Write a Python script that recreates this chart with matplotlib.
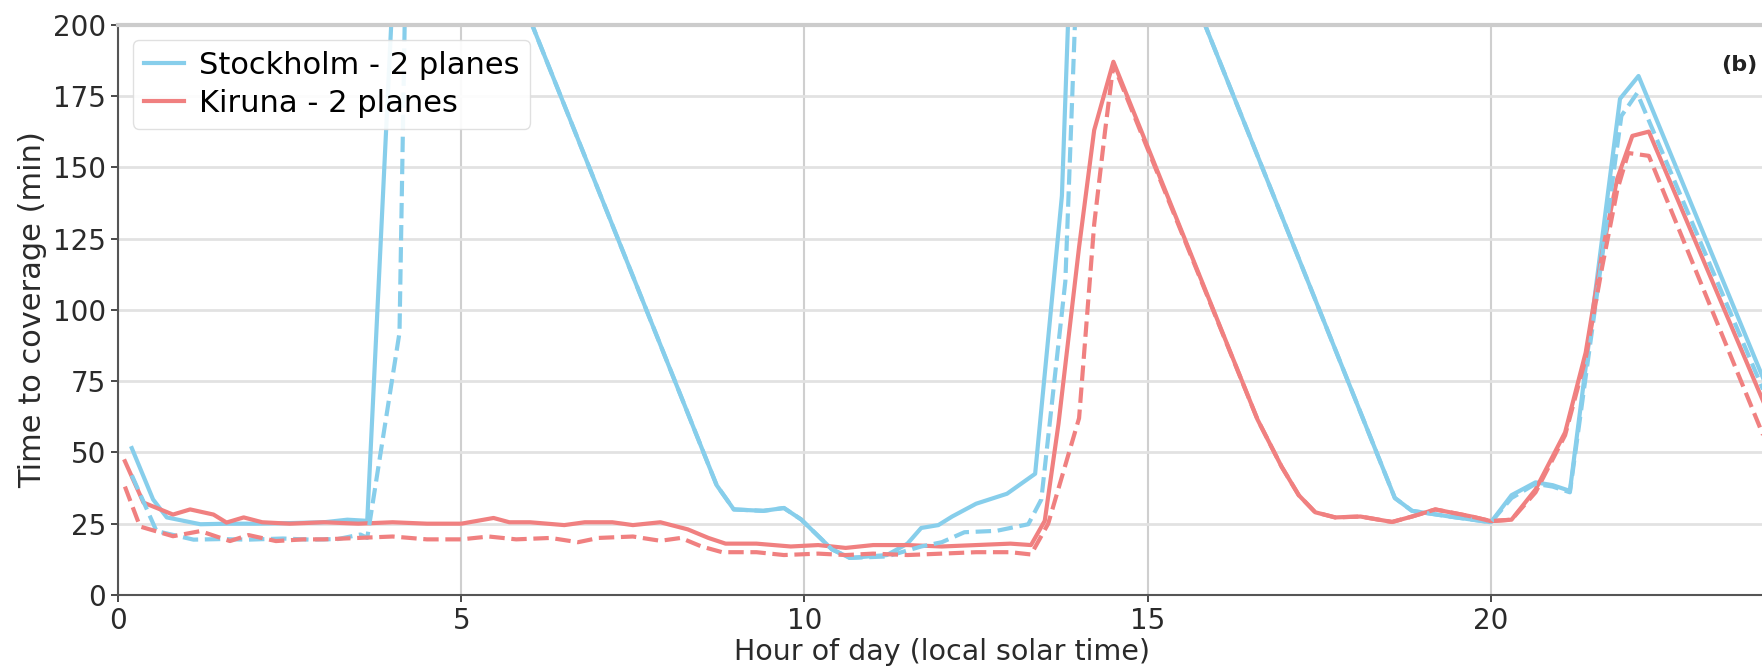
import matplotlib
matplotlib.use("Agg")
import matplotlib.pyplot as plt

# hour of day (local solar time) and time to coverage (min)
stockholm_solid_hours = [0.2, 0.51, 0.71, 1.2, 1.6, 2.0, 2.5, 3.0, 3.34, 3.63, 4.2,
                         8.72, 8.97, 9.4, 9.7, 9.95, 10.4, 10.66, 11.2, 11.5, 11.7,
                         11.95, 12.15, 12.5, 12.95, 13.36, 13.75, 14.0, 18.6, 18.85,
                         19.4, 20.0, 20.3, 20.65, 20.9, 21.15, 21.88, 22.15, 24.0]
stockholm_solid = [51.5, 33.5, 27.2, 24.8, 25.0, 25.0, 25.2, 25.5, 26.4, 26.0, 310,
                   38.5, 30.0, 29.5, 30.5, 26.5, 16.0, 13.0, 14.0, 18.0, 23.5,
                   24.5, 27.5, 32.0, 35.5, 42.5, 140, 310, 34.0, 29.5,
                   27.5, 25.5, 35.0, 39.5, 38.5, 36.5, 174, 182, 74]

stockholm_dash_hours = [0.2, 0.56, 1.1, 1.5, 1.9, 2.4, 2.8, 3.2, 3.53, 3.63, 4.1, 4.25,
                        8.72, 8.97, 9.4, 9.7, 9.95, 10.4, 10.66, 11.2, 11.7, 12.0,
                        12.33, 12.8, 13.26, 13.45, 13.8, 14.1, 18.6, 18.85, 19.4,
                        20.0, 20.3, 20.65, 20.9, 21.15, 21.9, 22.13, 24.0]
stockholm_dash = [42.0, 22.4, 19.4, 19.6, 19.4, 19.8, 19.4, 19.6, 21.2, 20.0, 92, 307,
                  38.5, 30.0, 29.5, 30.5, 26.5, 16.0, 13.0, 13.5, 17.0, 18.5,
                  22.0, 22.5, 24.8, 33.5, 110, 304, 34.0, 29.5, 27.5,
                  25.5, 34.0, 39.0, 38.0, 36.0, 168, 176, 70]

kiruna_solid_hours = [0.1, 0.37, 0.8, 1.05, 1.39, 1.58, 1.83, 2.1, 2.5, 3.0, 3.5, 4.0,
                      4.5, 5.0, 5.47, 5.7, 6.0, 6.5, 6.8, 7.2, 7.5, 7.9, 8.3, 8.6,
                      8.85, 9.3, 9.8, 10.2, 10.6, 11.0, 11.5, 12.0, 12.5, 13.0,
                      13.3, 13.5, 13.7, 14.0, 14.22, 14.5, 16.6, 16.95, 17.2, 17.44,
                      17.73, 18.1, 18.56, 18.85, 19.19, 19.7, 20.0, 20.3, 20.65,
                      21.08, 21.38, 21.62, 21.84, 22.06, 22.3, 24.0]
kiruna_solid = [46.9, 32.4, 28.2, 30.0, 28.2, 25.4, 27.2, 25.5, 25.0, 25.5, 25.0, 25.5,
                25.0, 25.0, 27.0, 25.5, 25.5, 24.5, 25.5, 25.5, 24.5, 25.5, 23.0, 20.0,
                18.0, 18.0, 17.0, 17.5, 16.5, 17.5, 17.5, 17.0, 17.5, 18.0,
                17.5, 26.0, 60.0, 122, 163, 187, 61.5, 45.0, 35.0, 29.0,
                27.2, 27.5, 25.6, 27.5, 30.0, 27.6, 25.9, 26.4, 37.0,
                57.0, 85.0, 120, 146, 161, 162.5, 66]

kiruna_dash_hours = [0.1, 0.32, 0.8, 1.2, 1.63, 1.9, 2.3, 2.7, 3.0, 3.5, 4.0, 4.5,
                     5.0, 5.4, 5.8, 6.3, 6.7, 7.0, 7.5, 7.9, 8.2, 8.5, 8.8, 9.3,
                     9.7, 10.2, 10.6, 11.0, 11.5, 12.0, 12.5, 13.0, 13.3, 13.55,
                     14.0, 14.22, 14.38, 14.5, 16.6, 16.95, 17.2, 17.44, 17.73,
                     18.1, 18.56, 18.85, 19.19, 19.7, 20.0, 20.3, 20.65, 21.08,
                     21.38, 21.62, 21.84, 22.0, 22.3, 24.0]
kiruna_dash = [38.0, 24.0, 20.6, 22.4, 18.9, 21.0, 18.9, 19.5, 19.5, 20.0, 20.5, 19.5,
               19.5, 20.5, 19.5, 20.0, 18.5, 20.0, 20.5, 19.0, 20.0, 17.0, 15.0, 15.0,
               14.0, 14.5, 14.0, 14.5, 14.0, 14.5, 15.0, 15.0, 14.2, 25.0,
               62.0, 130, 163, 186, 61.5, 45.0, 35.0, 29.0, 27.2,
               27.5, 25.6, 27.5, 30.0, 27.6, 25.9, 26.4, 36.0, 56.0,
               83.0, 115, 142, 155, 154, 54]

x_ticks = [0, 5, 10, 15, 20]
y_ticks = [0, 25, 50, 75, 100, 125, 150, 175, 200]

blue = "skyblue"
red = "lightcoral"

fig = plt.figure(figsize=(17.62, 6.67), dpi=100)
ax = fig.add_axes([0.067, 0.108, 0.935, 0.855])

ax.plot(stockholm_solid_hours, stockholm_solid, color=blue, lw=3, label="Stockholm - 2 planes")
ax.plot(kiruna_solid_hours, kiruna_solid, color=red, lw=3, label="Kiruna - 2 planes")
ax.plot(stockholm_dash_hours, stockholm_dash, color=blue, lw=3, ls="--")
ax.plot(kiruna_dash_hours, kiruna_dash, color=red, lw=3, ls="--")

ax.set_xlim(0, 24)
ax.set_ylim(0, 200)
ax.set_xticks(x_ticks)
ax.set_yticks(y_ticks)
ax.tick_params(labelsize=20, colors="#2a2a2a", length=5, width=1.2)

ax.grid(True, axis="x", color="#cfcfcf", lw=1.5)
ax.grid(True, axis="y", color="#e2e2e2", lw=2)
ax.set_axisbelow(True)

for side in ["left", "bottom"]:
    ax.spines[side].set_color("#555555")
    ax.spines[side].set_linewidth(1.5)
ax.spines["top"].set_color("#cccccc")
ax.spines["top"].set_linewidth(3)
ax.spines["right"].set_visible(False)

ax.set_xlabel("Hour of day (local solar time)", fontsize=20.5, color="#2a2a2a", labelpad=2)
ax.set_ylabel("Time to coverage (min)", fontsize=22, color="#2a2a2a", labelpad=4)

ax.legend(loc="upper left", fontsize=22, frameon=True, edgecolor="#dddddd", framealpha=0.9,
          handlelength=1.3, handletextpad=0.5, borderpad=0.35, labelspacing=0.3)
ax.text(0.995, 0.93, "(b)", transform=ax.transAxes, ha="right", va="center",
        fontsize=16, fontweight="bold", color="#222222")

fig.savefig("out.png", dpi=100)
